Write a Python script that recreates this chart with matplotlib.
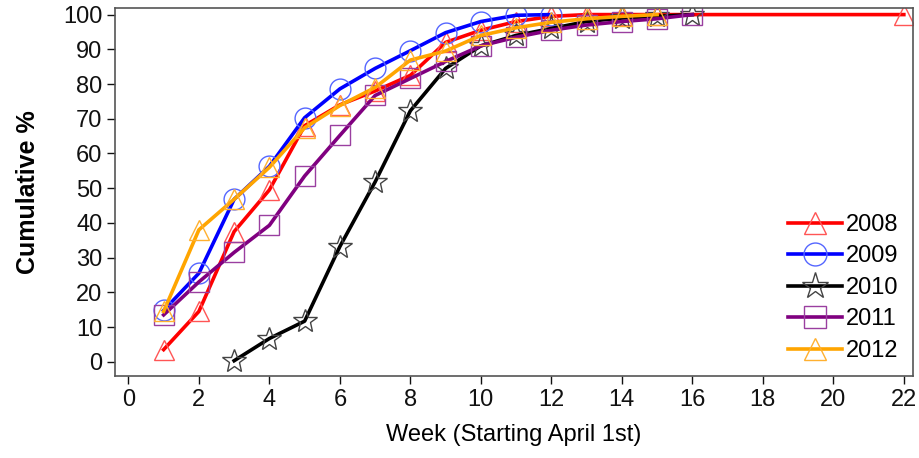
#cumulative % by week for each year, 2008-2012
import matplotlib.pyplot as plt
import numpy as np

plotName = 'out'

weeks_2008 = [1, 2, 3, 4, 5, 6, 7, 8, 9, 10, 11, 12, 13, 14, 15, 22]
pct_2008 = [3.5, 14.5, 37.5, 49.5, 68, 74, 78, 82.5, 92, 95.5, 98, 99.5, 100, 100, 100, 100]

weeks_2009 = [1, 2, 3, 4, 5, 6, 7, 8, 9, 10, 11, 12]
pct_2009 = [14.8, 25.5, 46.8, 56.3, 70.3, 78.6, 84.5, 89.6, 94.8, 98, 99.8, 100]

weeks_2010 = [3, 4, 5, 6, 7, 8, 9, 10, 11, 12, 13, 14, 15, 16]
pct_2010 = [0.3, 6.7, 11.7, 33.2, 51.8, 72.3, 84.5, 91, 94, 96, 98, 99, 99.5, 100]

weeks_2011 = [1, 2, 3, 4, 5, 6, 7, 8, 9, 10, 11, 12, 13, 14, 15, 16]
pct_2011 = [13.5, 23, 31.5, 39.3, 53.5, 65.2, 76.7, 81.6, 86.5, 91, 93.5, 95.5, 97, 98, 98.8, 100]

weeks_2012 = [1, 2, 3, 4, 5, 6, 7, 8, 9, 10, 11, 12, 13, 14, 15]
pct_2012 = [14.5, 38, 46.8, 56, 67.4, 73.8, 79, 86.9, 89.5, 94, 96.2, 97.8, 98.8, 99.5, 100]

series = [
    ('2008', weeks_2008, pct_2008, 'red', '#ff5555', '^'),
    ('2009', weeks_2009, pct_2009, 'blue', '#5566ff', 'o'),
    ('2010', weeks_2010, pct_2010, 'black', '#444444', '*'),
    ('2011', weeks_2011, pct_2011, '#800080', '#9a3fa0', 's'),
    ('2012', weeks_2012, pct_2012, 'orange', '#ffb030', '^'),
]

plt.rcParams['font.family'] = ['Liberation Sans', 'DejaVu Sans']

fig = plt.figure(figsize=(9.2, 4.58), dpi=100)
ax = fig.add_axes([115/920., 1 - 376/458., 798/920., 368/458.])

for name, w, p, col, mcol, mk in series:
    ms = 18 if mk == '*' else 15
    ax.plot(w, p, color=col, lw=2.6, marker=mk, ms=ms, mfc='none',
            mec=mcol, mew=1.0, label=name)

ax.set_xlim(-0.38, 22.26)
ax.set_ylim(-4.1, 101.9)
ax.set_xticks(np.arange(0, 23, 2))
ax.set_yticks(np.arange(0, 101, 10))
ax.tick_params(direction='out', length=6, width=1, labelsize=17, colors='#111111', pad=3)
for sp in ax.spines.values():
    sp.set_color('#555555')
    sp.set_linewidth(1.2)

ax.set_xlabel('Week (Starting April 1st)', fontsize=17, labelpad=10)
ax.set_ylabel('Cumulative %', fontsize=18, fontweight='bold', labelpad=17)

leg = ax.legend(loc='lower right', frameon=False, fontsize=17, handlelength=2.25,
                handletextpad=0.2, labelspacing=0.4, borderaxespad=0.2,
                markerscale=1.1)

fig.savefig(plotName + '.png', dpi=100)
